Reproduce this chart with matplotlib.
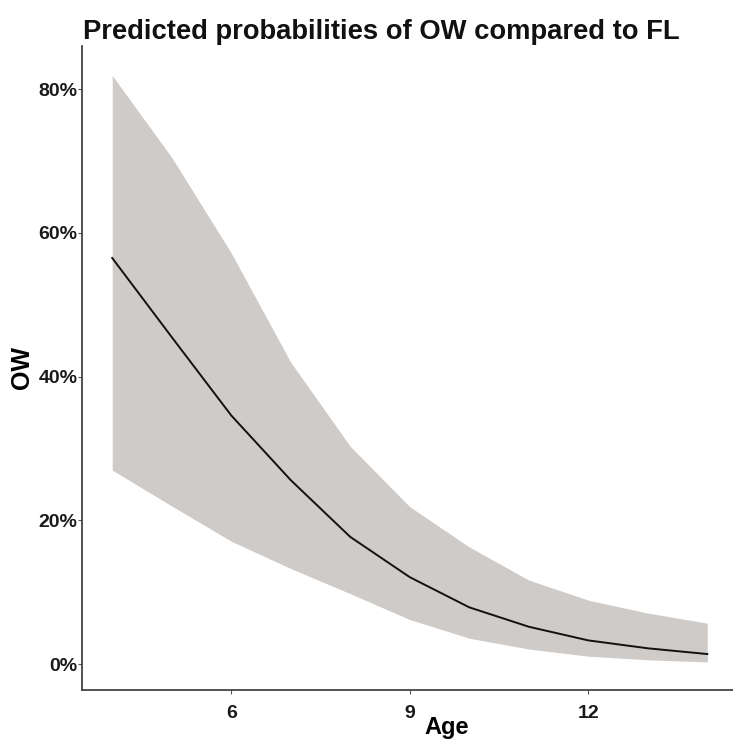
import matplotlib
matplotlib.use("Agg")
import matplotlib.pyplot as plt
from matplotlib.ticker import FuncFormatter

# Data (probabilities)
age = [4, 5, 6, 7, 8, 9, 10, 11, 12, 13, 14]
predicted = [0.565, 0.455, 0.346, 0.256, 0.177, 0.121, 0.079, 0.052, 0.033, 0.022, 0.014]
ci_low = [0.270, 0.220, 0.171, 0.133, 0.098, 0.062, 0.036, 0.021, 0.011, 0.006, 0.003]
ci_high = [0.819, 0.705, 0.572, 0.420, 0.303, 0.219, 0.163, 0.117, 0.089, 0.071, 0.057]

x_ticks = [6, 9, 12]
y_ticks = [0.0, 0.2, 0.4, 0.6, 0.8]

plt.rcParams['font.family'] = ['Liberation Sans', 'DejaVu Sans']

fig = plt.figure(figsize=(7.33, 7.44), dpi=100)
ax = fig.add_axes([0.1125, 0.0726, 0.893, 0.8656])

ax.fill_between(age, ci_low, ci_high, color='#cfcbc8', linewidth=0)
ax.plot(age, predicted, color='#111111', linewidth=1.4)

ax.set_xlim(3.5, 14.5)
ax.set_ylim(-0.036, 0.86)
ax.set_xticks(x_ticks)
ax.set_yticks(y_ticks)
ax.yaxis.set_major_formatter(FuncFormatter(lambda v, p: f"{v*100:.0f}%"))

for s in ['top', 'right']:
    ax.spines[s].set_visible(False)
for s in ['left', 'bottom']:
    ax.spines[s].set_color('#444444')
    ax.spines[s].set_linewidth(1.3)

ax.tick_params(axis='both', length=3, width=0.8, color='#555555',
               labelsize=14, labelcolor='#1a1a1a')
ax.tick_params(axis='x', pad=7.5)
ax.tick_params(axis='y', pad=0.5)
for lab in ax.get_xticklabels() + ax.get_yticklabels():
    lab.set_fontweight('bold')

ax.set_xlabel('Age', fontsize=17, fontweight='bold')
ax.xaxis.set_label_coords(0.557, -0.059, transform=ax.transAxes)
ax.xaxis.label.set_va('center')
ax.set_ylabel('OW', fontsize=18, fontweight='bold')
ax.yaxis.set_label_coords(-0.093, 0.5)
ax.yaxis.label.set_va('center')

fig.text(0.1132, 0.957, 'Predicted probabilities of OW compared to FL',
         fontsize=19.7, fontweight='bold', ha='left', va='center', color='#111111')

fig.savefig('out.png', dpi=100)
